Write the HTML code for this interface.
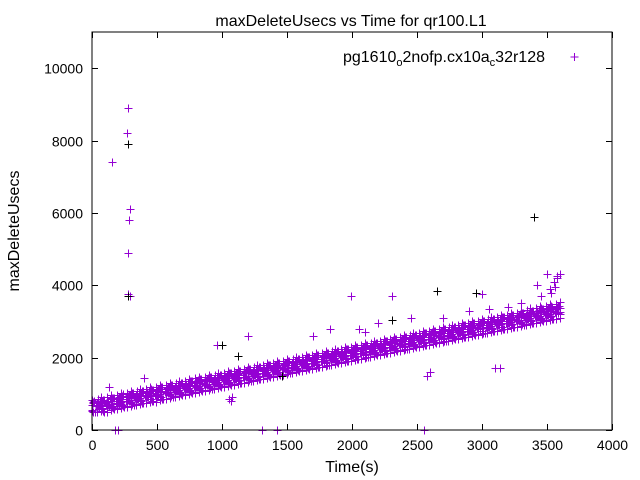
<!DOCTYPE html>
<html><head><meta charset="utf-8"><style>
body{margin:0;background:#fff;}
svg{display:block;font-family:"Liberation Sans",sans-serif;}
</style></head><body>
<svg id="chart" width="640" height="480" viewBox="0 0 640 480">
<text x="351" y="26" text-anchor="middle" font-size="16">maxDeleteUsecs vs Time for qr100.L1</text>
<text transform="translate(19,231) rotate(-90)" text-anchor="middle" font-size="16">maxDeleteUsecs</text>
<text x="352" y="472" text-anchor="middle" font-size="16">Time(s)</text>
<g id="ticks"></g>
<g id="marks"></g>
<rect x="92" y="32" width="520" height="398" fill="none" stroke="#000" stroke-width="1"/>
<g>
<text x="545" y="62" text-anchor="end" font-size="16">pg1610<tspan font-size="11" dy="4">o</tspan><tspan dy="-4">2nofp.cx10a</tspan><tspan font-size="11" dy="4">c</tspan><tspan dy="-4">32r128</tspan></text>
<path d="M570.5,57h8M574.5,53v8" stroke="#9400d3" stroke-width="1"/>
</g>
</svg>
<script>
const xTicks=[0,500,1000,1500,2000,2500,3000,3500,4000];
const yTicks=[0,2000,4000,6000,8000,10000];
const times=[];for(let t=0;t<=3600;t+=50)times.push(t);
const midVals=[640,690,700,760,790,820,880,900,950,975,1010,1060,1090,1130,1170,1200,1250,1280,1320,1350,1390,1430,1460,1490,1540,1570,1600,1650,1680,1720,1750,1790,1830,1860,1900,1930,1970,2010,2050,2080,2120,2150,2190,2230,2270,2300,2340,2380,2410,2450,2490,2520,2560,2600,2630,2670,2710,2740,2780,2820,2850,2890,2930,2960,3000,3040,3080,3110,3150,3190,3220,3260,3300];
const loVals=[520,570,560,630,650,690,740,760,800,830,860,910,950,990,1030,1060,1100,1140,1180,1210,1250,1290,1320,1350,1400,1430,1460,1510,1540,1580,1610,1650,1690,1720,1760,1790,1830,1870,1910,1940,1980,2010,2050,2090,2130,2160,2200,2240,2270,2310,2350,2380,2420,2460,2490,2530,2570,2600,2640,2680,2710,2750,2790,2820,2860,2900,2940,2970,3010,3050,3080,3120,3160];
const hiVals=[770,820,840,890,920,960,1010,1040,1090,1110,1150,1200,1230,1270,1310,1340,1390,1420,1460,1490,1530,1570,1600,1640,1680,1710,1750,1790,1820,1860,1890,1930,1970,2010,2040,2080,2120,2160,2190,2230,2270,2300,2340,2380,2420,2450,2490,2530,2560,2600,2640,2670,2710,2750,2780,2820,2860,2890,2930,2970,3000,3040,3080,3110,3150,3190,3230,3270,3310,3350,3390,3430,3460];
const jitterVals=[40,-60,10,70,-30,-80,50,0,-50,30,80,-20,-70,60,20,-40,90,-10,-90,35,-55,15,65,-25];
const outT=[150,270,275,280,285,290,280,275,290,3400,1990,2310,2650,3500,3550,3600,3580,3420,3000,2050,1830,1200,960,400,1050,1070,1080,1460,2580,2600,3100,3140,180,200,1310,1420,2550,130,240,1700,2100,2700,2900,3200,3300,3450,3520,600,800,2200,2450,3050,3530,3560,3580];
const outV=[7400,8200,7900,8900,5800,6100,4900,3750,3700,5900,3700,3700,3850,4300,4100,4300,4200,4000,3750,2800,2800,2600,2350,1450,850,800,900,1500,1500,1600,1700,1700,0,0,0,0,0,1200,1000,2600,2700,3100,3300,3400,3500,3700,3900,1150,1350,2950,3100,3350,3800,3950,4250];
const blkT=[1000,1120,2650,2950,3400,280,280,2310,1460];
const blkV=[2350,2050,3850,3800,5900,7900,3700,3050,1500];
const X0=92,X1=612,Y0=430,Y1=32,XMAX=4000,YMAX=11000;
const sx=t=>X0+t/XMAX*(X1-X0);
const sy=v=>Y0-v/YMAX*(Y0-Y1);
const NS="http://www.w3.org/2000/svg";
const tg=document.getElementById('ticks'),mg=document.getElementById('marks');
xTicks.forEach(t=>{
 const x=Math.round(sx(t))+0.5;
 const p=document.createElementNS(NS,'path');
 p.setAttribute('d',`M${x},430v-6M${x},32v6`);p.setAttribute('stroke','#000');
 
 
 tg.appendChild(p);
 const l=document.createElementNS(NS,'text');
 l.setAttribute('x',x);l.setAttribute('y',450);l.setAttribute('text-anchor','middle');l.setAttribute('font-size','14');
 l.textContent=t;
 
 
 tg.appendChild(l);
});
yTicks.forEach(v=>{
 const y=Math.round(sy(v))+0.5;
 const p=document.createElementNS(NS,'path');
 p.setAttribute('d',`M92,${y}h6M612,${y}h-6`);p.setAttribute('stroke','#000');
 
 
 tg.appendChild(p);
 const l=document.createElementNS(NS,'text');
 l.setAttribute('x',83);l.setAttribute('y',y+5);l.setAttribute('text-anchor','end');l.setAttribute('font-size','14');
 l.textContent=v;
 
 
 tg.appendChild(l);
});
function plus(t,v,c){
 const x=Math.round(sx(t))+0.5,y=Math.round(sy(v))+0.5;
 const p=document.createElementNS(NS,'path');
 p.setAttribute('d',`M${x-4},${y}h8M${x},${y-4}v8`);
 p.setAttribute('stroke',c);
 
 
 mg.appendChild(p);
}
let j=0;
const n=Math.min(times.length,loVals.length,midVals.length,hiVals.length);
for(let i=0;i<n;i++){
 const subs=(i+1<n)?4:1;
 for(let s=0;s<subs;s++){
  const f=s/4;
  const t=times[i]+(i+1<n?f*(times[i+1]-times[i]):0);
  const lo=loVals[i]+(i+1<n?f*(loVals[i+1]-loVals[i]):0);
  const hi=hiVals[i]+(i+1<n?f*(hiVals[i+1]-hiVals[i]):0);
  for(let k=0;k<4;k++){
   const v=lo+k*(hi-lo)/3+jitterVals[j%jitterVals.length];j++;
   plus(t+jitterVals[(j*7)%jitterVals.length]/8,v,'#9400d3');
  }
 }
}
outT.forEach((t,i)=>plus(t,outV[i],'#9400d3'));
blkT.forEach((t,i)=>plus(t,blkV[i],'#000'));
</script>
</body></html>
